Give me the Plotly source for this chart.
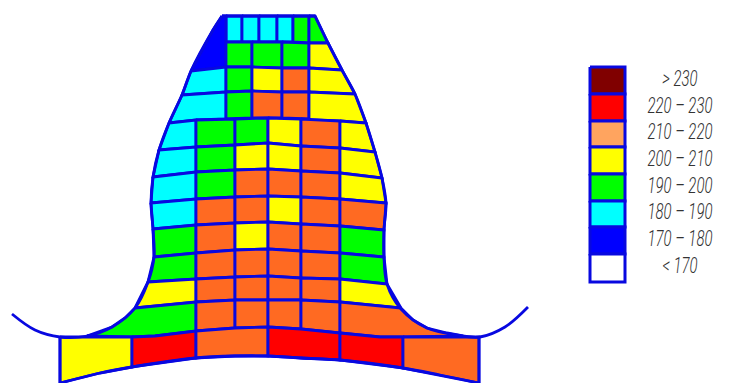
import plotly.graph_objects as go

LEGEND_LABELS = ["> 230", "220 – 230", "210 – 220", "200 – 210", "190 – 200", "180 – 190", "170 – 180", "< 170"]
LEGEND_COLORS = ["#800000", "#ff0000", "#ffa45f", "#ffff00", "#00ff00", "#00ffff", "#0000ff", "#ffffff"]
LEGEND_EDGES = [67, 94, 121, 147, 174, 201, 227, 254, 282]

R, O, Y, G, C, B = "#ff0000", "#ff6a22", "#ffff00", "#00ff00", "#00ffff", "#0000ff"
STROKE = "#0808e0"

# Lower block: transverse mesh lines at the columns [edge, 196, 235, 268, 301, 340, edge]
LOWER_X = {
    "i": [169, 196, 235, 268, 301, 340, 366],
    "h": [159, 196, 235, 268, 301, 340, 375],
    "g": [153, 196, 235, 268, 301, 340, 382],
    "f": [151, 196, 235, 268, 301, 340, 386],
    "a": [153, 196, 235, 268, 301, 340, 384],
    "b": [154, 196, 235, 268, 301, 340, 384],
    "c": [148, 196, 235, 268, 301, 340, 387],
    "d": [135, 196, 235, 268, 301, 340, 401],
}
LOWER_Y = {
    "i": [123, 120, 119, 118, 119, 121, 123],
    "h": [150, 147, 145, 143, 146, 148, 152],
    "g": [177, 172, 170, 169, 171, 173, 178],
    "f": [203, 199, 197, 196, 197, 199, 203],
    "a": [229, 225, 223, 222, 224, 226, 230],
    "b": [257, 253, 250, 249, 251, 253, 257],
    "c": [282, 279, 277, 276, 278, 279, 284],
    "d": [308, 302, 300, 300, 300, 302, 308],
}
LOWER_ROWS = [("i", "h"), ("h", "g"), ("g", "f"), ("f", "a"), ("a", "b"), ("b", "c"), ("c", "d")]
LOWER_BANDS = [
    [C, G, G, Y, O, Y],
    [C, G, Y, Y, O, Y],
    [C, G, O, O, O, Y],
    [C, O, O, Y, O, O],
    [G, O, Y, O, O, G],
    [G, O, O, O, O, G],
    [Y, O, O, O, O, Y],
]

# Upper block cells (x list, y list, colour)
UPPER_CELLS = [
    ([226, 242, 242, 226], [16, 16, 42, 42], C),
    ([242, 259, 259, 242], [16, 16, 42, 42], C),
    ([259, 277, 277, 259], [16, 16, 42, 42], C),
    ([277, 293, 293, 277], [16, 16, 42, 42], C),
    ([293, 309, 309, 293], [16, 16, 43, 42], G),
    ([309, 315, 328, 309], [16, 16, 43, 43], G),
    ([222, 226, 226, 191, 213], [16, 16, 67, 71, 30], B),
    ([226, 252, 252, 226], [42, 42, 67, 67], G),
    ([252, 282, 282, 252], [42, 42, 68, 67], G),
    ([282, 309, 309, 282], [42, 43, 68, 68], G),
    ([309, 328, 342, 309], [43, 43, 70, 68], Y),
    ([191, 226, 226, 182], [71, 67, 92, 95], C),
    ([226, 252, 252, 226], [67, 67, 91, 92], G),
    ([252, 282, 282, 252], [67, 68, 92, 91], Y),
    ([282, 309, 309, 282], [68, 68, 92, 92], O),
    ([309, 342, 355, 309], [68, 70, 94, 92], Y),
    ([182, 226, 226, 196, 169], [95, 92, 119, 120, 123], C),
    ([226, 252, 252, 226], [92, 91, 118, 119], G),
    ([252, 282, 282, 252], [91, 92, 118, 118], O),
    ([282, 309, 309, 282], [92, 92, 119, 118], O),
    ([309, 355, 366, 340, 309], [92, 94, 123, 121, 120], Y),
]

# Root row and base row
ROOT_CELLS = [
    ([135, 196, 196, 155, 132, 87, 112, 125], [308, 302, 331, 336, 337, 336, 327, 318], G),
    ([196, 235, 235, 196], [302, 300, 328, 331], O),
    ([235, 268, 268, 235], [300, 300, 327, 328], O),
    ([268, 301, 301, 268], [300, 300, 329, 327], O),
    ([301, 340, 340, 301], [300, 302, 333, 329], O),
    ([340, 401, 413, 427, 447, 463, 403, 380, 340], [302, 308, 320, 328, 333, 336, 337, 337, 333], O),
    ([60, 132, 132, 100, 60], [337, 337, 367, 373, 383], Y),
    ([132, 155, 196, 196, 132], [337, 336, 331, 358, 367], R),
    ([196, 235, 268, 268, 235, 196], [331, 328, 327, 356, 356, 358], O),
    ([268, 301, 340, 340, 301, 268], [327, 329, 333, 360, 358, 356], R),
    ([340, 380, 403, 403, 340], [333, 337, 337, 368, 360], R),
    ([403, 479, 479, 403], [337, 337, 383, 368], O),
]

OUTLINE_LEFT_X = [222, 213, 191, 182, 169, 159, 153, 151, 153, 154, 148, 135, 112, 87, 60, 35, 12]
OUTLINE_LEFT_Y = [16, 30, 71, 95, 123, 150, 177, 203, 229, 257, 282, 308, 327, 336, 337, 330, 314]
OUTLINE_RIGHT_X = [315, 328, 342, 355, 366, 375, 382, 386, 384, 384, 387, 401, 427, 463, 480, 505, 528]
OUTLINE_RIGHT_Y = [16, 43, 70, 94, 123, 152, 178, 203, 230, 257, 284, 309, 328, 336, 337, 327, 307]
OUTLINE_TOP_X = [222, 315]
OUTLINE_TOP_Y = [16, 16]
BASE_BOTTOM_X = [60, 100, 132, 196, 235, 268, 301, 340, 403, 440, 479]
BASE_BOTTOM_Y = [383, 373, 367, 358, 356, 356, 358, 360, 368, 375, 383]
BASE_SIDES = [([60, 60], [337, 383]), ([479, 479], [337, 383])]

LEGEND_TEXT_X = 680
FONT = "Roboto, sans-serif"

fig = go.Figure()


def poly(xs, ys, fill, width=2.8):
    fig.add_trace(go.Scatter(
        x=list(xs) + [xs[0]], y=list(ys) + [ys[0]], mode="lines", fill="toself",
        fillcolor=fill, line=dict(color=STROKE, width=width),
        hoverinfo="skip", showlegend=False))


def stroke(xs, ys, shape="linear", width=2.8):
    fig.add_trace(go.Scatter(
        x=xs, y=ys, mode="lines", line=dict(color=STROKE, width=width, shape=shape, smoothing=1.0),
        hoverinfo="skip", showlegend=False))


for xs, ys, c in UPPER_CELLS:
    poly(xs, ys, c)

for (top, bot), bands in zip(LOWER_ROWS, LOWER_BANDS):
    for j, c in enumerate(bands):
        xs = [LOWER_X[top][j], LOWER_X[top][j + 1], LOWER_X[bot][j + 1], LOWER_X[bot][j]]
        ys = [LOWER_Y[top][j], LOWER_Y[top][j + 1], LOWER_Y[bot][j + 1], LOWER_Y[bot][j]]
        poly(xs, ys, c)

for xs, ys, c in ROOT_CELLS:
    poly(xs, ys, c)

stroke(OUTLINE_LEFT_X, OUTLINE_LEFT_Y, "spline")
stroke(OUTLINE_RIGHT_X, OUTLINE_RIGHT_Y, "spline")
stroke(OUTLINE_TOP_X, OUTLINE_TOP_Y)
stroke(BASE_BOTTOM_X, BASE_BOTTOM_Y, "spline")
for xs, ys in BASE_SIDES:
    stroke(xs, ys)

# Legend swatches
for i, c in enumerate(LEGEND_COLORS):
    poly([590, 625, 625, 590], [LEGEND_EDGES[i], LEGEND_EDGES[i], LEGEND_EDGES[i + 1], LEGEND_EDGES[i + 1]], c, 3)

fig.add_trace(go.Scatter(
    x=[LEGEND_TEXT_X] * len(LEGEND_LABELS),
    y=[(LEGEND_EDGES[i] + LEGEND_EDGES[i + 1]) / 2 for i in range(len(LEGEND_LABELS))],
    mode="text", text=LEGEND_LABELS,
    textfont=dict(family=FONT, size=22, color="#333333", style="italic", weight=300),
    textposition="middle center", hoverinfo="skip", showlegend=False))

fig.update_layout(
    width=733, height=383, autosize=False,
    margin=dict(l=0, r=0, t=0, b=0),
    paper_bgcolor="white", plot_bgcolor="white",
    xaxis=dict(range=[0, 733], visible=False, fixedrange=True),
    yaxis=dict(range=[383, 0], visible=False, fixedrange=True),
)

POST = """
document.body.style.margin = '0';
document.querySelectorAll('.textpoint text').forEach(function (t) {
    var cx = parseFloat(t.getAttribute('x')) || 0;
    t.setAttribute('transform', 'translate(' + cx + ',0) scale(0.68,1) translate(' + (-cx) + ',0)');
});
"""
fig.write_html("out.html", post_script=POST, config={"displayModeBar": False})
